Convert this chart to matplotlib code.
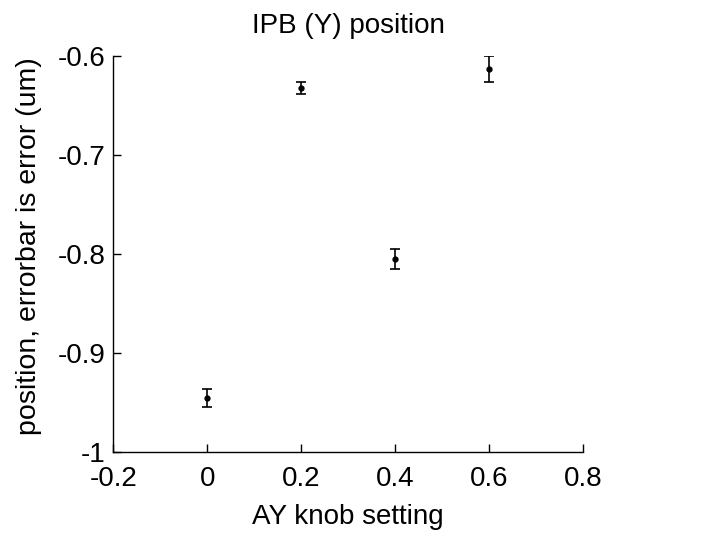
import matplotlib
matplotlib.use("Agg")
import matplotlib.pyplot as plt

# knob setting vs measured position
knob = [0.0, 0.2, 0.4, 0.6]
position = [-0.9455, -0.6326, -0.805, -0.6137]
error = [0.0093, 0.0065, 0.010, 0.013]

x_ticks = [-0.2, 0, 0.2, 0.4, 0.6, 0.8]
x_labels = ["-0.2", "0", "0.2", "0.4", "0.6", "0.8"]
y_ticks = [-1, -0.9, -0.8, -0.7, -0.6]
y_labels = ["-1", "-0.9", "-0.8", "-0.7", "-0.6"]

plt.rcParams["font.family"] = ["Liberation Sans", "DejaVu Sans"]

fig = plt.figure(figsize=(7.04, 5.35), dpi=100)
ax = fig.add_axes([0.1612, 0.155, 0.667, 0.741])

ax.errorbar(
    knob,
    position,
    yerr=error,
    fmt=".",
    color="black",
    markersize=7,
    elinewidth=1.2,
    capsize=3.6,
    capthick=1.2,
)

ax.set_xlim(-0.2, 0.8)
ax.set_ylim(-1, -0.6)
ax.set_xticks(x_ticks)
ax.set_xticklabels(x_labels)
ax.set_yticks(y_ticks)
ax.set_yticklabels(y_labels)

ax.spines["top"].set_visible(False)
ax.spines["right"].set_visible(False)
for side in ("left", "bottom"):
    ax.spines[side].set_linewidth(1.0)

ax.tick_params(direction="in", length=6, width=1.0, labelsize=20)
ax.tick_params(axis="x", pad=10)
ax.tick_params(axis="y", pad=6)

ax.set_title("IPB (Y) position", fontsize=20, pad=16)
ax.set_xlabel("AY knob setting", fontsize=20)
ax.set_ylabel("position, errorbar is error (um)", fontsize=20.5)
ax.xaxis.set_label_coords(0.5, -0.13)
ax.yaxis.set_label_coords(-0.152, 0.52)

fig.savefig("out.png", dpi=100)
